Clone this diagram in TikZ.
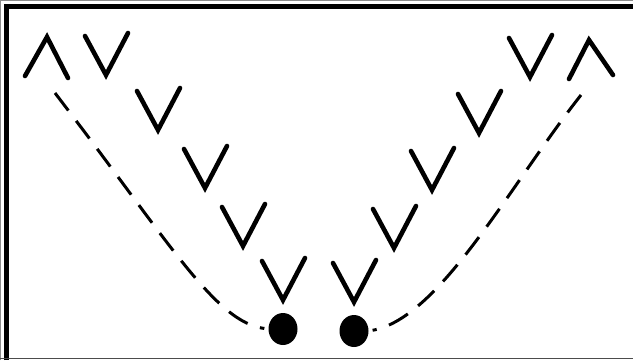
\documentclass[tikz,border=0pt]{standalone}
\usetikzlibrary{shapes.geometric}

\begin{document}
\begin{tikzpicture}[x=1pt,y=-1pt,
 spin/.style={line width=4.6pt,line cap=round,line join=miter},
 ball/.style={ellipse,fill,inner sep=0pt,minimum width=29pt,minimum height=32pt},
 path/.style={line width=3pt,dash pattern=on 22pt off 13pt,shorten >=4pt}]
\useasboundingbox (0,0) rectangle (633,360);
% frame
\draw[black!45,line width=1pt] (0.5,360) -- (0.5,0.5) -- (633,0.5);
\draw[line width=5pt] (6.5,360) -- (6.5,6.5) -- (633,6.5);
\draw[black!70,line width=1.5pt] (0,358.5) -- (633,358.5);
% the two balls
\node[ball] (lball) at (283,329) {};
\node[ball] (rball) at (354,331) {};
% down spins
\foreach \x/\y in {106/75,158/130,205/188,243/246,283/300,
                   354/302,394/248,432/190,479/133,530/77}
  \draw[spin] (\x-21,\y-39) -- (\x,\y) -- (\x+22,\y-42);
% up spins
\draw[spin] (25,76) -- (47,37) -- (68,78);
\draw[spin] (569,79) -- (589,40) -- (613,75);
% paths
\coordinate (lstart) at (55,93);
\coordinate (rstart) at (581,95);
\draw[path] (lstart) .. controls (170,243) and (215,322) .. (lball.west);
\draw[path] (rstart) .. controls (510,185) and (440,318) .. (rball.east);
\end{tikzpicture}
\end{document}
